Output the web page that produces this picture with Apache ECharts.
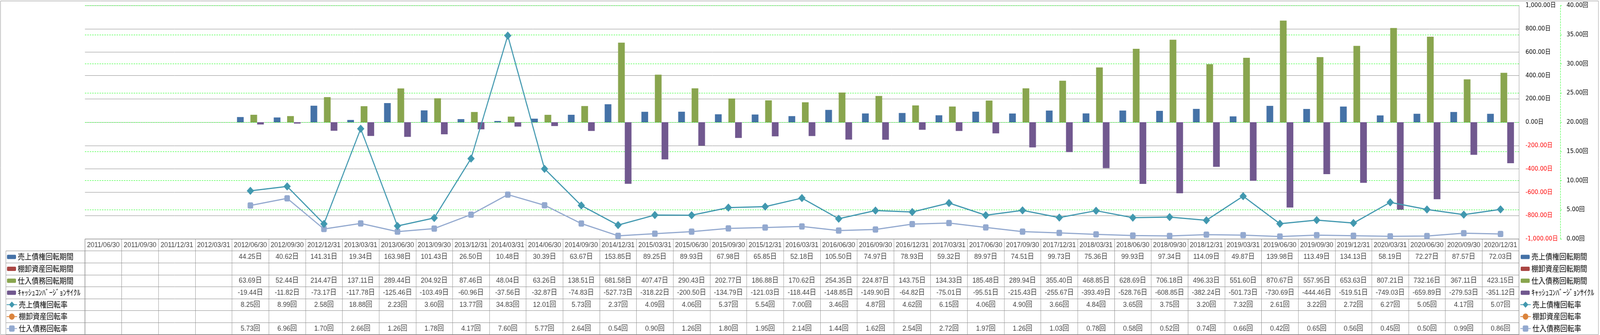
<!DOCTYPE html>
<html><head><meta charset="utf-8">
<script src="https://cdn.jsdelivr.net/npm/echarts@6/dist/echarts.min.js"></script>
<style>html,body{margin:0;padding:0;background:#fff;overflow:hidden}#c{width:4597px;height:858px;transform-origin:0 0}</style>
</head><body><div id="c"></div>
<script>
const categories = ['2011/06/30','2011/09/30','2011/12/31','2012/03/31','2012/06/30','2012/09/30','2012/12/31','2013/03/31','2013/06/30','2013/09/30','2013/12/31','2014/03/31','2014/06/30','2014/09/30','2014/12/31','2015/03/31','2015/06/30','2015/09/30','2015/12/31','2016/03/31','2016/06/30','2016/09/30','2016/12/31','2017/03/31','2017/06/30','2017/09/30','2017/12/31','2018/03/31','2018/06/30','2018/09/30','2018/12/31','2019/03/31','2019/06/30','2019/09/30','2019/12/31','2020/03/31','2020/06/30','2020/09/30','2020/12/31'];

const seriesNames = ['売上債権回転期間','棚卸資産回転期間','仕入債務回転期間','ｷｬｯｼｭｺﾝﾊﾞｰｼﾞｮﾝｻｲｸﾙ','売上債権回転率','棚卸資産回転率','仕入債務回転率'];

const arDays = [null,null,null,null,44.25,40.62,141.31,19.34,163.98,101.43,26.50,10.48,30.39,63.67,153.85,89.25,89.93,67.98,65.85,52.18,105.50,74.97,78.93,59.32,89.97,74.51,99.73,75.36,99.93,97.34,114.09,49.87,139.98,113.49,134.13,58.19,72.27,87.57,72.03];
const invDays = [];
const apDays = [null,null,null,null,63.69,52.44,214.47,137.11,289.44,204.92,87.46,48.04,63.26,138.51,681.58,407.47,290.43,202.77,186.88,170.62,254.35,224.87,143.75,134.33,185.48,289.94,355.40,468.85,628.69,706.18,496.33,551.60,870.67,557.95,653.63,807.21,732.16,367.11,423.15];
const cccDays = [null,null,null,null,-19.44,-11.82,-73.17,-117.78,-125.46,-103.49,-60.96,-37.56,-32.87,-74.83,-527.73,-318.22,-200.50,-134.79,-121.03,-118.44,-148.85,-149.90,-64.82,-75.01,-95.51,-215.43,-255.67,-393.49,-528.76,-608.85,-382.24,-501.73,-730.69,-444.46,-519.51,-749.03,-659.89,-279.53,-351.12];
const arTurn = [null,null,null,null,8.25,8.99,2.58,18.88,2.23,3.60,13.77,34.83,12.01,5.73,2.37,4.09,4.06,5.37,5.54,7.00,3.46,4.87,4.62,6.15,4.06,4.90,3.66,4.84,3.65,3.75,3.20,7.32,2.61,3.22,2.72,6.27,5.05,4.17,5.07];
const invTurn = [];
const apTurn = [null,null,null,null,5.73,6.96,1.70,2.66,1.26,1.78,4.17,7.60,5.77,2.64,0.54,0.90,1.26,1.80,1.95,2.14,1.44,1.62,2.54,2.72,1.97,1.26,1.03,0.78,0.58,0.52,0.74,0.66,0.42,0.65,0.56,0.45,0.50,0.99,0.86];

const daysAxis = {min: -1000, max: 1000, interval: 200};
const turnAxis = {min: 0, max: 40, interval: 5};

const colors = ['#4572A7','#AA4643','#89A54E','#71588F','#4198AF','#DB843D','#93A9CF'];

// the reference is 4597 px wide; the browser viewport may be narrower, so squeeze horizontally
const el = document.getElementById('c');
const sx = Math.min(1, (window.innerWidth || 4597) / 4597);
el.style.transform = 'scale(' + sx + ',1)';

const rows = [
  {vals: arDays, unit: '日'}, {vals: invDays, unit: '日'}, {vals: apDays, unit: '日'}, {vals: cccDays, unit: '日'},
  {vals: arTurn, unit: '回'}, {vals: invTurn, unit: '回'}, {vals: apTurn, unit: '回'}
];
const tableData = [];
categories.forEach((c, i) => tableData.push({value: [i, 0], txt: c}));
rows.forEach((r, ri) => r.vals.forEach((v, i) => {
  if (v != null) tableData.push({value: [i, ri + 1], txt: v.toFixed(2) + r.unit});
}));

const GRID_L = 244, GRID_R = 4597 - 4364, TOP = 14, PLOT_H = 598;
const ROW_H = 30.6;
const TABLE_TOP = TOP + PLOT_H;

const fmtDays = v => v.toLocaleString('en-US', {minimumFractionDigits: 2, maximumFractionDigits: 2}) + '日';
const fmtTurn = v => v.toFixed(2) + '回';

const legendText = {fontFamily: "'Noto Sans CJK JP', sans-serif", fontSize: 20, color: '#000', lineHeight: ROW_H};
function mkLegend(left, top, names, w, h) {
  return {orient: 'vertical', left: left, top: top, itemGap: 0, padding: 0, itemWidth: w, itemHeight: h,
    selectedMode: false, textStyle: legendText, data: names};
}

const chart = echarts.init(el, null, {renderer: 'canvas', width: 4597, height: 858});
chart.setOption({
  animation: false,
  backgroundColor: '#fff',
  graphic: [{type: 'rect', shape: {x: 1.5, y: 2.5, width: 4591, height: 854.5}, style: {fill: null, stroke: '#8a8a8a', lineWidth: 1}, silent: true}],
  legend: [
    mkLegend(20, TABLE_TOP + ROW_H, seriesNames.slice(0, 4), 26, 11),
    mkLegend(18, TABLE_TOP + ROW_H * 5, seriesNames.slice(4), 30, 20),
    mkLegend(4369, TABLE_TOP + ROW_H, seriesNames.slice(0, 4), 26, 11),
    mkLegend(4367, TABLE_TOP + ROW_H * 5, seriesNames.slice(4), 30, 20)
  ],
  grid: [
    {left: GRID_L, right: GRID_R, top: TOP, height: PLOT_H, containLabel: false},
    {left: GRID_L, right: GRID_R, top: TABLE_TOP, height: ROW_H * 8, show: true, borderColor: '#8a8a8a', borderWidth: 1, backgroundColor: 'transparent'},
    {left: 17, width: GRID_L - 17, top: TABLE_TOP + ROW_H, height: ROW_H * 7, show: true, borderColor: '#8a8a8a', borderWidth: 1, backgroundColor: 'transparent'}
  ],
  xAxis: [
    {type: 'category', gridIndex: 0, data: categories, boundaryGap: true, axisLine: {show: false}, axisTick: {show: false}, axisLabel: {show: false}, splitLine: {show: false}},
    {type: 'category', gridIndex: 1, data: categories, boundaryGap: true, axisLine: {show: false}, axisTick: {show: false, interval: 0}, axisLabel: {show: false},
      splitLine: {show: true, interval: 0, lineStyle: {color: '#8a8a8a', width: 1}}},
    {type: 'value', gridIndex: 2, show: false, min: 0, max: 1}
  ],
  yAxis: [
    {type: 'value', gridIndex: 0, position: 'right', min: daysAxis.min, max: daysAxis.max, interval: daysAxis.interval,
      axisLine: {show: true, lineStyle: {color: '#8a8a8a', width: 1}}, axisTick: {show: false},
      axisLabel: {show: true, margin: 19, formatter: fmtDays, fontFamily: "'DejaVu Sans', 'Noto Sans CJK JP', sans-serif", fontSize: 16,
        color: v => (Number(v) < 0 ? '#FF0000' : '#000000')},
      splitLine: {show: true, lineStyle: {color: '#8a8a8a', width: 1, type: 'solid'}}},
    {type: 'value', gridIndex: 0, position: 'right', offset: 119, min: turnAxis.min, max: turnAxis.max, interval: turnAxis.interval,
      axisLine: {show: true, lineStyle: {color: '#00FF00', width: 1, type: [4, 3]}},
      axisTick: {show: true, inside: false, length: 4, lineStyle: {color: '#00FF00', width: 1}},
      axisLabel: {show: true, margin: 18, formatter: fmtTurn, fontFamily: "'DejaVu Sans', 'Noto Sans CJK JP', sans-serif", fontSize: 16, color: '#000'},
      splitLine: {show: true, lineStyle: {color: '#00FF00', width: 1, type: [4, 3]}}},
    {type: 'category', gridIndex: 1, inverse: true, data: ['', ...seriesNames], boundaryGap: true,
      axisLine: {show: false}, axisTick: {show: false, interval: 0}, axisLabel: {show: false},
      splitLine: {show: true, interval: 0, lineStyle: {color: '#8a8a8a', width: 1}}},
    {type: 'category', gridIndex: 2, inverse: true, data: seriesNames, boundaryGap: true,
      axisLine: {show: false}, axisTick: {show: false, interval: 0}, axisLabel: {show: false},
      splitLine: {show: true, interval: 0, lineStyle: {color: '#8a8a8a', width: 1}}}
  ],
  series: [
    {name: seriesNames[0], type: 'bar', xAxisIndex: 0, yAxisIndex: 0, data: arDays, itemStyle: {color: colors[0]}, barGap: '0%', barCategoryGap: '27%'},
    {name: seriesNames[1], type: 'bar', xAxisIndex: 0, yAxisIndex: 0, data: invDays, itemStyle: {color: colors[1]}, barGap: '0%', barCategoryGap: '27%'},
    {name: seriesNames[2], type: 'bar', xAxisIndex: 0, yAxisIndex: 0, data: apDays, itemStyle: {color: colors[2]}, barGap: '0%', barCategoryGap: '27%'},
    {name: seriesNames[3], type: 'bar', xAxisIndex: 0, yAxisIndex: 0, data: cccDays, itemStyle: {color: colors[3]}, barGap: '0%', barCategoryGap: '27%'},
    {name: seriesNames[4], type: 'line', xAxisIndex: 0, yAxisIndex: 1, data: arTurn, symbol: 'diamond', symbolSize: 21, z: 5,
      lineStyle: {color: colors[4], width: 3}, itemStyle: {color: colors[4], borderWidth: 0}},
    {name: seriesNames[5], type: 'line', xAxisIndex: 0, yAxisIndex: 1, data: invTurn, symbol: 'circle', symbolSize: 16, z: 5,
      lineStyle: {color: colors[5], width: 3}, itemStyle: {color: colors[5], borderWidth: 0}},
    {name: seriesNames[6], type: 'line', xAxisIndex: 0, yAxisIndex: 1, data: apTurn, symbol: 'roundRect', symbolSize: 16, z: 4,
      lineStyle: {color: colors[6], width: 3}, itemStyle: {color: colors[6], borderWidth: 0}},
    {name: 'table', type: 'scatter', xAxisIndex: 1, yAxisIndex: 2, data: tableData, symbolSize: 0, silent: true,
      label: {show: true, position: 'inside', formatter: p => p.data.txt, color: '#111',
        fontFamily: "'Liberation Sans', 'Noto Sans CJK JP', sans-serif", fontSize: 19}}
  ]
});
</script></body></html>
